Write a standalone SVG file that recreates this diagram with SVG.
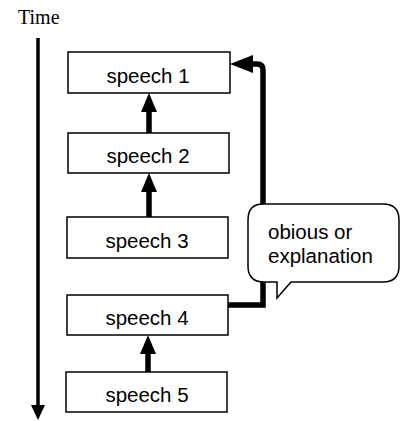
<svg xmlns="http://www.w3.org/2000/svg" width="400" height="421" viewBox="0 0 400 421">
<style>
.box{fill:#fff;stroke:#000;stroke-width:1.5}
.lbl{font-family:"Liberation Sans",Arial,sans-serif;font-size:20.5px;fill:#000}
.thick{fill:none;stroke:#000;stroke-width:5.5}
</style>
<rect width="400" height="421" fill="#fff"/>
<g id="time">
<text x="18" y="24" font-family="'Liberation Serif','Times New Roman',serif" font-size="20" fill="#000">Time</text>
<line x1="38" y1="38" x2="38" y2="408" stroke="#000" stroke-width="3.5"/>
<polygon points="31,405 45,405 38,420" fill="#000"/>
</g>
<g id="connectors">
<line class="thick" x1="149" y1="133" x2="149" y2="108"/>
<polygon points="141,112 157,112 149,93" fill="#000"/>
<line class="thick" x1="149" y1="217" x2="149" y2="192"/>
<polygon points="141,192 157,192 149,173" fill="#000"/>
<line class="thick" x1="148" y1="372" x2="148" y2="350"/>
<polygon points="140,354 156,354 148,335" fill="#000"/>
<path class="thick" d="M228,305 H263 V70 Q263,64 257,64 H248"/>
<polygon points="230,64 253,55 253,73" fill="#000"/>
</g>
<g id="speech1"><rect class="box" x="68" y="52" width="162" height="41"/><text class="lbl" x="148" y="83" text-anchor="middle">speech 1</text></g>
<g id="speech2"><rect class="box" x="68" y="133" width="161" height="40"/><text class="lbl" x="148" y="163" text-anchor="middle">speech 2</text></g>
<g id="speech3"><rect class="box" x="67" y="217" width="161" height="41"/><text class="lbl" x="147" y="248" text-anchor="middle">speech 3</text></g>
<g id="speech4"><rect class="box" x="67" y="295" width="161" height="40"/><text class="lbl" x="147" y="325" text-anchor="middle">speech 4</text></g>
<g id="speech5"><rect class="box" x="66" y="372" width="161" height="40"/><text class="lbl" x="147" y="402" text-anchor="middle">speech 5</text></g>
<g id="bubble">
<path d="M263,204 H383 Q399,204 399,220 V266 Q399,282 383,282 H291 L277,298 L277,282 H264 Q248,282 248,266 V220 Q248,204 263,204 Z" fill="#fff" stroke="#000" stroke-width="1.5"/>
<text class="lbl" x="268" y="239" font-size="21">obious or</text>
<text class="lbl" x="268" y="263" font-size="21">explanation</text>
</g>
</svg>
